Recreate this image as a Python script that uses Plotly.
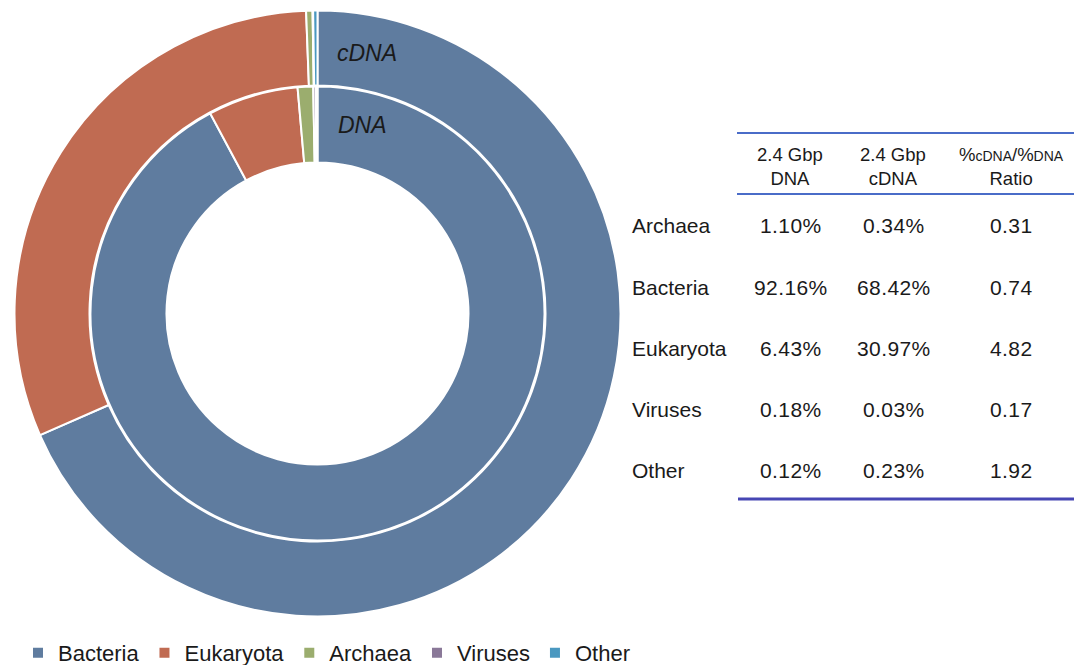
import plotly.graph_objects as go

categories = ["Bacteria", "Eukaryota", "Archaea", "Viruses", "Other"]
dna_pct = [92.16, 6.43, 1.10, 0.18, 0.12]
cdna_pct = [68.42, 30.97, 0.34, 0.03, 0.23]
colors = ["#5F7C9F", "#C06B52", "#9BAD6E", "#8A7898", "#4A98C0"]

table_rows = ["Archaea", "Bacteria", "Eukaryota", "Viruses", "Other"]
table_dna = ["1.10%", "92.16%", "6.43%", "0.18%", "0.12%"]
table_cdna = ["0.34%", "68.42%", "30.97%", "0.03%", "0.23%"]
table_ratio = ["0.31", "0.74", "4.82", "0.17", "1.92"]
header_dna = "2.4 Gbp<br>DNA"
header_cdna = "2.4 Gbp<br>cDNA"
header_ratio = "%<span style='font-size:14px'>cDNA</span>/%<span style='font-size:14px'>DNA</span><br>Ratio"

W, H = 1074, 665
FONT = "Liberation Sans, Arial, sans-serif"
TXT = "#1a1a1a"


def px_x(x):
    return x / W


def px_y(y):
    return 1 - y / H


cx, cy = 317.5, 313.5
r_out, r_mid, r_in = 303, 227, 151

fig = go.Figure()
fig.add_trace(go.Pie(
    labels=categories, values=cdna_pct, name="cDNA",
    sort=False, direction="clockwise", rotation=0,
    hole=(r_mid + 1) / r_out,
    marker=dict(colors=colors, line=dict(color="white", width=2)),
    textinfo="none", hoverinfo="label+percent",
    domain=dict(x=[px_x(cx - r_out), px_x(cx + r_out)], y=[px_y(cy + r_out), px_y(cy - r_out)]),
))
fig.add_trace(go.Pie(
    labels=categories, values=dna_pct, name="DNA",
    sort=False, direction="clockwise", rotation=0,
    hole=r_in / r_mid,
    marker=dict(colors=colors, line=dict(color="white", width=2)),
    textinfo="none", hoverinfo="label+percent",
    domain=dict(x=[px_x(cx - r_mid), px_x(cx + r_mid)], y=[px_y(cy + r_mid), px_y(cy - r_mid)]),
    showlegend=False,
))

annotations = []
annotations.append(dict(x=px_x(367), y=px_y(53), text="<i>cDNA</i>", showarrow=False, yanchor="middle",
                        xref="paper", yref="paper", font=dict(size=23, family=FONT, color=TXT)))
annotations.append(dict(x=px_x(362), y=px_y(125), text="<i>DNA</i>", showarrow=False, yanchor="middle",
                        xref="paper", yref="paper", font=dict(size=23, family=FONT, color=TXT)))

# table header
for xc, txt in [(790, header_dna), (893, header_cdna), (1011, header_ratio)]:
    annotations.append(dict(x=px_x(xc), y=px_y(166), text=txt, showarrow=False, xref="paper", yref="paper",
                            xanchor="center", yanchor="middle", align="center",
                            font=dict(size=18.5, family=FONT, color=TXT)))


def spaced(s):
    return "<span style='letter-spacing:0.4px'>" + s + "</span>"


row_y = [225, 287, 348, 409, 470]
for i, lab in enumerate(table_rows):
    y = px_y(row_y[i])
    common = dict(y=y, showarrow=False, xref="paper", yref="paper", yanchor="middle")
    annotations.append(dict(x=px_x(630), text=lab, xanchor="left",
                            font=dict(size=21, family=FONT, color=TXT), **common))
    annotations.append(dict(x=px_x(791), text=spaced(table_dna[i]), xanchor="center",
                            font=dict(size=21, family=FONT, color=TXT), **common))
    annotations.append(dict(x=px_x(894), text=spaced(table_cdna[i]), xanchor="center",
                            font=dict(size=21, family=FONT, color=TXT), **common))
    annotations.append(dict(x=px_x(1011), text=spaced(table_ratio[i]), xanchor="center",
                            font=dict(size=21, family=FONT, color=TXT), **common))

shapes = [
    dict(type="line", xref="paper", yref="paper", x0=px_x(737), x1=1, y0=px_y(133), y1=px_y(133),
         line=dict(color="#4A6CC8", width=2)),
    dict(type="line", xref="paper", yref="paper", x0=px_x(737), x1=1, y0=px_y(194), y1=px_y(194),
         line=dict(color="#4A6CC8", width=2)),
    dict(type="line", xref="paper", yref="paper", x0=px_x(738), x1=1, y0=px_y(499), y1=px_y(499),
         line=dict(color="#4646B4", width=3)),
]

fig.update_layout(
    width=W, height=H,
    margin=dict(l=0, r=0, t=0, b=0, autoexpand=False),
    paper_bgcolor="white", plot_bgcolor="white",
    annotations=annotations, shapes=shapes,
    font=dict(family=FONT, color=TXT),
    legend=dict(orientation="h", x=px_x(18), y=px_y(653), xanchor="left", yanchor="middle",
                font=dict(size=22, family=FONT, color=TXT), itemwidth=30, tracegroupgap=0,
                bgcolor="rgba(0,0,0,0)"),
)

fig.write_html("out.html", config={"displayModeBar": False},
               post_script="document.body.style.margin='0';")
